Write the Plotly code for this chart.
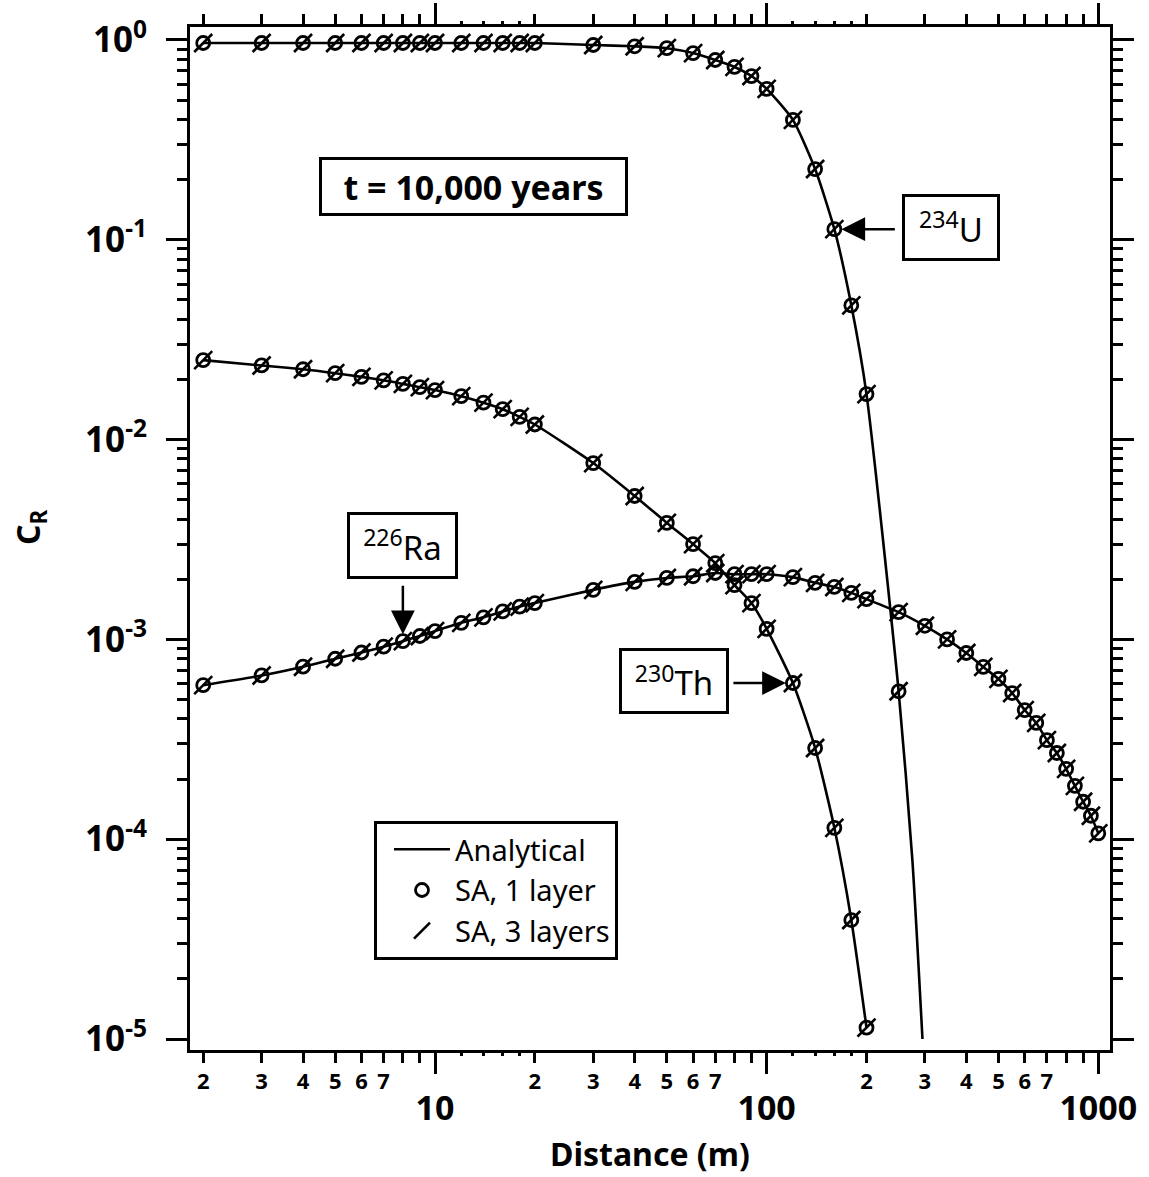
import math
import plotly.graph_objects as go

# Distance grid (m) of the semi-analytical (SA) solution points
x_u = [2, 3, 4, 5, 6, 7, 8, 9, 10, 12, 14, 16, 18, 20, 30, 40, 50, 60, 70, 80, 90, 100,
       120, 140, 160, 180, 200, 250]
x_th = [2, 3, 4, 5, 6, 7, 8, 9, 10, 12, 14, 16, 18, 20, 30, 40, 50, 60, 70, 80, 90, 100,
        120, 140, 160, 180, 200]
x_ra = [2, 3, 4, 5, 6, 7, 8, 9, 10, 12, 14, 16, 18, 20, 30, 40, 50, 60, 70, 80, 90, 100,
        120, 140, 160, 180, 200, 250, 300, 350, 400, 450, 500, 550, 600, 650, 700, 750,
        800, 850, 900, 950, 1000]

# Relative concentration C_R at t = 10,000 years
c_u = [0.966, 0.966, 0.966, 0.966, 0.966, 0.966, 0.966, 0.966, 0.966, 0.966, 0.966, 0.966,
       0.966, 0.966, 0.944, 0.93, 0.91, 0.86, 0.794, 0.733, 0.66, 0.569,
       0.398, 0.226, 0.113, 0.047, 0.0169, 5.5e-4]
c_th = [0.025, 0.0235, 0.0225, 0.0215, 0.0206, 0.0198, 0.019, 0.0183, 0.0177, 0.0165,
        0.0153, 0.0142, 0.013, 0.0119, 7.63e-3, 5.22e-3, 3.83e-3, 3.0e-3, 2.41e-3, 1.87e-3,
        1.52e-3, 1.13e-3, 6.05e-4, 2.86e-4, 1.14e-4, 3.94e-5, 1.14e-5]
c_ra = [5.9e-4, 6.6e-4, 7.3e-4, 8.0e-4, 8.6e-4, 9.2e-4, 9.8e-4, 1.04e-3, 1.10e-3, 1.21e-3,
        1.29e-3, 1.38e-3, 1.46e-3, 1.52e-3, 1.77e-3, 1.94e-3, 2.03e-3, 2.07e-3, 2.15e-3,
        2.12e-3, 2.12e-3, 2.12e-3, 2.05e-3, 1.92e-3, 1.83e-3, 1.71e-3, 1.59e-3, 1.37e-3,
        1.17e-3, 1.0e-3, 8.55e-4, 7.28e-4, 6.34e-4, 5.39e-4, 4.43e-4, 3.82e-4, 3.13e-4,
        2.70e-4, 2.25e-4, 1.85e-4, 1.54e-4, 1.31e-4, 1.07e-4]

# Analytical 234U profile continues past the last SA point
x_u_tail = [275, 295]
c_u_tail = [7.9e-5, 1.0e-5]

major_x = [10, 100, 1000]
minor_x = [2, 3, 4, 5, 6, 7, 8, 9, 20, 30, 40, 50, 60, 70, 80, 90,
           200, 300, 400, 500, 600, 700, 800, 900]
minor_x_text = ["2", "3", "4", "5", "6", "7", "", ""] * 3
fine_x = [12, 14, 16, 18, 120, 140, 160, 180]
major_y = [1, 1e-1, 1e-2, 1e-3, 1e-4, 1e-5]
major_y_text = ["10<sup>0</sup>", "10<sup>-1</sup>", "10<sup>-2</sup>",
                "10<sup>-3</sup>", "10<sup>-4</sup>", "10<sup>-5</sup>"]
minor_y = [m * 10.0 ** e for e in range(-5, 0) for m in range(2, 10)]

FONT = "Noto Sans"
BLACK = "black"

fig = go.Figure()

line_style = dict(color=BLACK, width=2.6, shape="spline", smoothing=0.6)
curves = [
    (x_u + x_u_tail, c_u + c_u_tail),
    (x_th, c_th),
    (x_ra, c_ra),
]
for i, (xs, ys) in enumerate(curves):
    fig.add_trace(go.Scatter(x=xs, y=ys, mode="lines", line=line_style,
                             name="Analytical", showlegend=(i == 0),
                             legendrank=1))

sa_sets = [(x_u, c_u), (x_th, c_th), (x_ra, c_ra)]
for i, (xs, ys) in enumerate(sa_sets):
    fig.add_trace(go.Scatter(x=xs, y=ys, mode="markers", name="SA, 1 layer",
                             marker=dict(symbol="circle-open", size=13, color=BLACK,
                                         line=dict(width=2.8, color=BLACK)),
                             showlegend=(i == 0), legendrank=2))
for i, (xs, ys) in enumerate(sa_sets):
    fig.add_trace(go.Scatter(x=xs, y=ys, mode="markers", name="SA, 3 layers",
                             marker=dict(symbol="line-ne-open", size=18, color=BLACK,
                                         line=dict(width=2.6, color=BLACK)),
                             showlegend=(i == 0), legendrank=3))

# axis geometry
XR = [0.2612, 3.0353]
YR = [-5.055, 0.065]

fig.update_layout(
    width=1149, height=1177,
    margin=dict(l=190, r=39, t=27, b=127, autoexpand=False),
    paper_bgcolor="white", plot_bgcolor="white",
    font=dict(family=FONT, color=BLACK),
    xaxis=dict(type="log", range=XR, tickvals=major_x, ticktext=["10", "100", "1000"],
               ticks="outside", ticklen=21, tickwidth=3, tickcolor=BLACK,
               showline=True, linewidth=3, linecolor=BLACK, mirror="ticks",
               showgrid=False, zeroline=False, automargin=False,
               tickfont=dict(family=FONT, size=34, weight="bold"),
               ticklabelstandoff=5),
    xaxis2=dict(type="log", range=XR, overlaying="x", side="bottom", anchor="y",
                tickvals=minor_x, ticktext=minor_x_text,
                ticks="outside", ticklen=12, tickwidth=3, tickcolor=BLACK,
                showline=False, mirror="ticks", showgrid=False, zeroline=False,
                automargin=False,
                tickfont=dict(family=FONT, size=22, weight="bold")),
    xaxis3=dict(type="log", range=XR, overlaying="x", side="bottom", anchor="y",
                tickvals=fine_x, showticklabels=False,
                ticks="outside", ticklen=5, tickwidth=3, tickcolor=BLACK,
                showline=False, mirror="ticks", showgrid=False, zeroline=False,
                automargin=False),
    yaxis=dict(type="log", range=YR, tickvals=major_y, ticktext=major_y_text,
               ticks="outside", ticklen=21, tickwidth=3, tickcolor=BLACK,
               minor=dict(tickvals=minor_y, ticks="outside", ticklen=10, tickwidth=3,
                          tickcolor=BLACK),
               showline=True, linewidth=3, linecolor=BLACK, mirror="ticks",
               showgrid=False, zeroline=False, automargin=False,
               tickfont=dict(family=FONT, size=35, weight="bold"),
               ticklabelstandoff=12),
    legend=dict(x=0.2, y=0.2239, xanchor="left", yanchor="top",
                bordercolor=BLACK, borderwidth=3, bgcolor="white",
                font=dict(family=FONT, size=29), tracegroupgap=0,
                itemwidth=56, indentation=12),
    showlegend=True,
)

# helper axes only carry ticks; each needs a (hidden) trace to be drawn
fig.add_trace(go.Scatter(x=[10], y=[1], xaxis="x2", mode="markers",
                         marker=dict(opacity=0), showlegend=False, hoverinfo="skip"))
fig.add_trace(go.Scatter(x=[10], y=[1], xaxis="x3", mode="markers",
                         marker=dict(opacity=0), showlegend=False, hoverinfo="skip"))


def px(xp):
    return (xp - 190) / 920.0


def py(yp):
    return (1050 - yp) / 1023.0


def box(text, cx, cy, w, h, size, bold=False):
    fig.add_annotation(x=px(cx), y=py(cy), xref="paper", yref="paper",
                       xanchor="center", yanchor="middle", showarrow=False,
                       text=text, width=w, height=h, borderpad=0,
                       bordercolor=BLACK, borderwidth=3, bgcolor="white",
                       font=dict(family=FONT, size=size, color=BLACK,
                                 weight="bold" if bold else "normal"))


box("t = 10,000 years", 473, 187, 303, 53, 34, bold=True)
box("<sup>234</sup>U", 950.5, 227, 92, 61, 33)
box("<sup>226</sup>Ra", 402, 545, 105, 61, 33)
box("<sup>230</sup>Th", 673.5, 680.5, 104, 60, 33)


def arrow(xv, yv, ax, ay):
    fig.add_annotation(x=xv, y=yv, xref="x", yref="y", text="", showarrow=True,
                       ax=ax, ay=ay, axref="pixel", ayref="pixel",
                       arrowhead=2, arrowsize=1.9, arrowwidth=2.5, arrowcolor=BLACK,
                       standoff=7)


arrow(math.log10(160), math.log10(0.113), 62, 0)
arrow(math.log10(8), math.log10(9.8e-4), 0, -57)
arrow(math.log10(120), math.log10(6.05e-4), -61, 0)

# axis titles
fig.add_annotation(x=px(650), y=py(1153), xref="paper", yref="paper",
                   text="Distance (m)", showarrow=False, xanchor="center",
                   yanchor="middle",
                   font=dict(family=FONT, size=32, weight="bold", color=BLACK))
fig.add_annotation(x=px(30), y=py(527), xref="paper", yref="paper",
                   text="C<sub>R</sub>", showarrow=False, textangle=-90,
                   xanchor="center", yanchor="middle",
                   font=dict(family=FONT, size=32, weight="bold", color=BLACK))

fig.write_html("out.html")
